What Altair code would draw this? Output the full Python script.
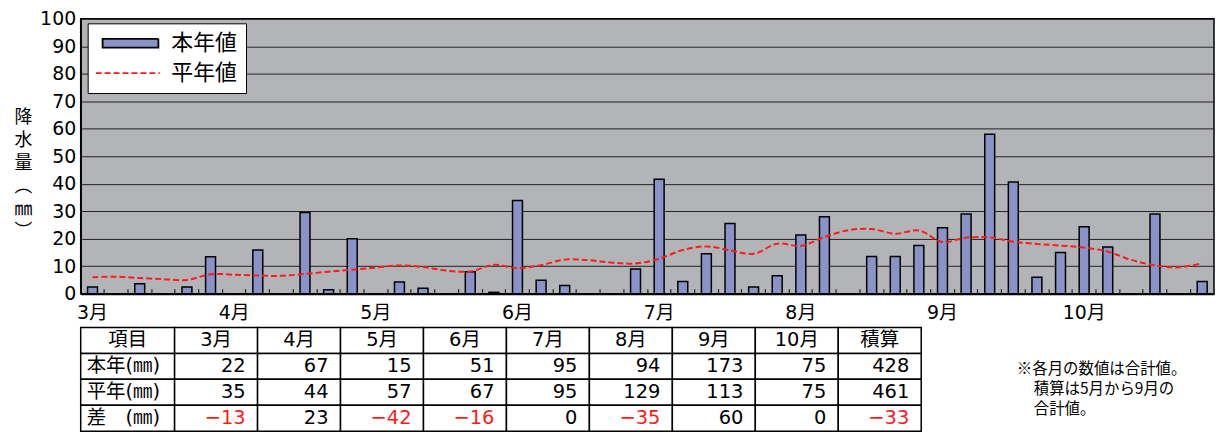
import altair as alt
import pandas as pd

# ---------------- data ----------------
months = ["3月", "4月", "5月", "6月", "7月", "8月", "9月", "10月"]
# 半旬 (5-day) precipitation, this year (mm), 6 per month, Mar-Oct
this_year = [2.4, 0, 3.6, 0, 2.4, 13.4,
             0, 15.9, 0, 29.5, 1.4, 20.0,
             0, 4.3, 2.0, 0, 8.0, 0.5,
             33.9, 4.9, 3.0, 0, 0, 9.0,
             41.6, 4.4, 14.5, 25.5, 2.4, 6.5,
             21.4, 28.0, 0, 13.5, 13.5, 17.5,
             24.0, 29.0, 58.0, 40.6, 6.0, 15.0,
             24.4, 17.0, 0, 29.0, 0, 4.4]
# normal (平年値) per 半旬
normal = [6.0, 6.2, 5.7, 5.3, 5.0, 7.1,
          6.9, 6.6, 6.5, 7.2, 8.0, 8.7,
          9.5, 10.3, 9.7, 8.4, 8.1, 10.5,
          9.3, 10.4, 12.4, 12.2, 11.3, 11.0,
          12.7, 15.9, 17.2, 15.8, 14.5, 18.2,
          17.4, 20.6, 23.1, 23.5, 21.8, 23.0,
          18.8, 20.4, 20.5, 18.9, 18.1, 17.5,
          16.8, 15.3, 12.3, 10.3, 9.6, 11.1]
series_names = ["本年値", "平年値"]

table_columns = ["項目", "3月", "4月", "5月", "6月", "7月", "8月", "9月", "10月", "積算"]
row_labels = ["本年(㎜)", "平年(㎜)", "差　(㎜)"]
this_year_totals = [22, 67, 15, 51, 95, 94, 173, 75, 428]
normal_totals = [35, 44, 57, 67, 95, 129, 113, 75, 461]
diff_totals = [-13, 23, -42, -16, 0, -35, 60, 0, -33]
note_lines = ["※各月の数値は合計値。", "積算は5月から9月の", "合計値。"]
note_indent = [0, 1, 1]
y_title = ["降", "水", "量", "︵", "㎜", "︶"]

# ---------------- styles ----------------
FONT = "DejaVu Sans, Noto Sans CJK JP, sans-serif"
CJK = "Noto Sans CJK JP, DejaVu Sans, sans-serif"
BAR = "#8a93c8"
RED = "#ff1a1a"
W, H = 1138, 276

slots = list(range(len(this_year)))
bars_df = pd.DataFrame({"slot": slots, "value": this_year})
line_df = pd.DataFrame({"slot": slots, "value": normal})
legend_df = pd.DataFrame({"series": series_names})

xscale = alt.Scale(domain=slots, paddingInner=0, paddingOuter=0)
yscale = alt.Scale(domain=[0, 100], nice=False)

label_expr = "datum.value % 6 == 0 ? " + str(months) + "[datum.value / 6] : ''"

y_axis = alt.Axis(
    values=list(range(0, 101, 10)), grid=True, gridColor="#222222", gridWidth=1,
    ticks=False, domainColor="black", domainWidth=1.5, labelFontSize=19,
    labelFont=FONT, labelColor="black", labelPadding=5,
    title=y_title, titleAngle=0, titleX=-58, titleY=90, titleAlign="center",
    titleBaseline="top", titleFontSize=18, titleFont=CJK, titleFontWeight="normal",
    titleLineHeight=23, titleColor="black")

legend = alt.Legend(
    title=None, orient="none", legendX=7, legendY=4.5, direction="vertical",
    fillColor="white", strokeColor="black", padding=8,
    symbolSize=3136, symbolOffset=6, symbolStrokeWidth=1.8, labelOffset=12,
    labelFontSize=22, labelFont=CJK, labelColor="black", clipHeight=24,
    rowPadding=6, labelLimit=200,
)

bars = alt.Chart(bars_df).mark_bar(
    width=alt.RelativeBandSize(0.42), fill=BAR, stroke="black", strokeWidth=1.5
).encode(
    x=alt.X("slot:O", scale=xscale, axis=alt.Axis(
        orient="bottom", title=None, labelExpr=label_expr, labelAngle=0, ticks=False,
        domainColor="black", domainWidth=2, labelFontSize=19, labelFont=FONT,
        labelColor="black", labelPadding=10, labelOverlap=False)),
    y=alt.Y("value:Q", scale=yscale, axis=y_axis),
)

line = alt.Chart(line_df).mark_line(
    stroke=RED, strokeDash=[6, 3], strokeWidth=2, interpolate="catmull-rom"
).encode(
    x=alt.X("slot:O", scale=xscale, axis=alt.Axis(
        orient="top", offset=-H, labels=False, domain=False, ticks=True, tickSize=5,
        tickColor="#222222", tickWidth=1.2, bandPosition=0, grid=False, title=None)),
    y=alt.Y("value:Q", scale=yscale, axis=y_axis),
)

# legend-only layer (no rows survive the filter; entries come from the scale domains)
legend_layer = alt.Chart(legend_df).transform_filter("false").mark_point(
    filled=True, opacity=1
).encode(
    fill=alt.Fill("series:N", scale=alt.Scale(domain=series_names, range=[BAR, "transparent"]), legend=legend),
    stroke=alt.Stroke("series:N", scale=alt.Scale(domain=series_names, range=["black", RED]), legend=legend),
    shape=alt.Shape("series:N", scale=alt.Scale(
        domain=series_names,
        range=["M-1,-0.16L1,-0.16L1,0.16L-1,0.16Z", "M-1.25,0L1.05,0"]), legend=legend),
    strokeDash=alt.StrokeDash("series:N", scale=alt.Scale(domain=series_names, range=[[1, 0], [6, 3]]), legend=legend),
)

top = alt.layer(bars, line, legend_layer).properties(
    width=W, height=H,
    view=alt.ViewBackground(fill="#b3b4b8", stroke="black", strokeWidth=1.5),
)

# ---------------- table ----------------
col_w = [94.3] + [83.3] * 9
edges = [0.0]
for w in col_w:
    edges.append(edges[-1] + w)
TW = edges[-1]
ROW_H = 26.0


def fmt(v):
    return ("−" + str(-v)) if v < 0 else str(v)


value_rows = [this_year_totals, normal_totals, diff_totals]
cells = []
for r in range(4):
    for c in range(len(table_columns)):
        x0, x1 = edges[c], edges[c + 1]
        num = 0
        if r == 0:
            kind, tx, text = "center", (x0 + x1) / 2, table_columns[c]
        elif c == 0:
            kind, tx, text = "left", x0 + 6, row_labels[r - 1]
        else:
            num = value_rows[r - 1][c - 1]
            kind, tx, text = "right", x1 - 12, fmt(num)
        cells.append(dict(x0=x0, x1=x1, y0=r, y1=r + 1, ym=r + 0.5, tx=tx,
                          text=text, kind=kind, num=num))
cells_df = pd.DataFrame(cells)

tx_scale = alt.Scale(domain=[0, TW], nice=False, zero=False)
ty_scale = alt.Scale(domain=[0, 4], reverse=True, nice=False, zero=False)

base = alt.Chart(cells_df)
rects = base.mark_rect(fill="white", stroke="black", strokeWidth=1.5).encode(
    x=alt.X("x0:Q", scale=tx_scale, axis=None), x2="x1",
    y=alt.Y("y0:Q", scale=ty_scale, axis=None), y2="y1",
)
txt_layers = []
for kind in ["center", "left", "right"]:
    txt_layers.append(
        base.transform_filter(alt.datum.kind == kind).mark_text(
            align=kind, baseline="middle", fontSize=19.5, font=FONT
        ).encode(
            x=alt.X("tx:Q", scale=tx_scale, axis=None),
            y=alt.Y("ym:Q", scale=ty_scale, axis=None),
            text="text:N",
            color=alt.condition("datum.num < 0", alt.value(RED), alt.value("black")),
        )
    )

# note text to the right of the table (table units: px across, rows down)
note_df = pd.DataFrame({
    "line": note_lines,
    "nx": [940 + 17 * k for k in note_indent],
    "ny": [(42 + 20 * i) / ROW_H for i in range(len(note_lines))],
})
note = alt.Chart(note_df).mark_text(
    align="left", baseline="middle", fontSize=15.5, font=CJK, color="black"
).encode(
    x=alt.X("nx:Q", scale=tx_scale, axis=None),
    y=alt.Y("ny:Q", scale=ty_scale, axis=None),
    text="line:N",
)

table = alt.layer(rects, *txt_layers, note).properties(
    width=TW, height=ROW_H * 4,
    view=alt.ViewBackground(stroke="transparent"),
)

chart = alt.vconcat(top, table, spacing=2).properties(
    padding={"left": 5, "top": 0, "right": 0, "bottom": 0}
).configure(background="white")

chart.save("out.html", embed_options={"renderer": "svg", "actions": False})
